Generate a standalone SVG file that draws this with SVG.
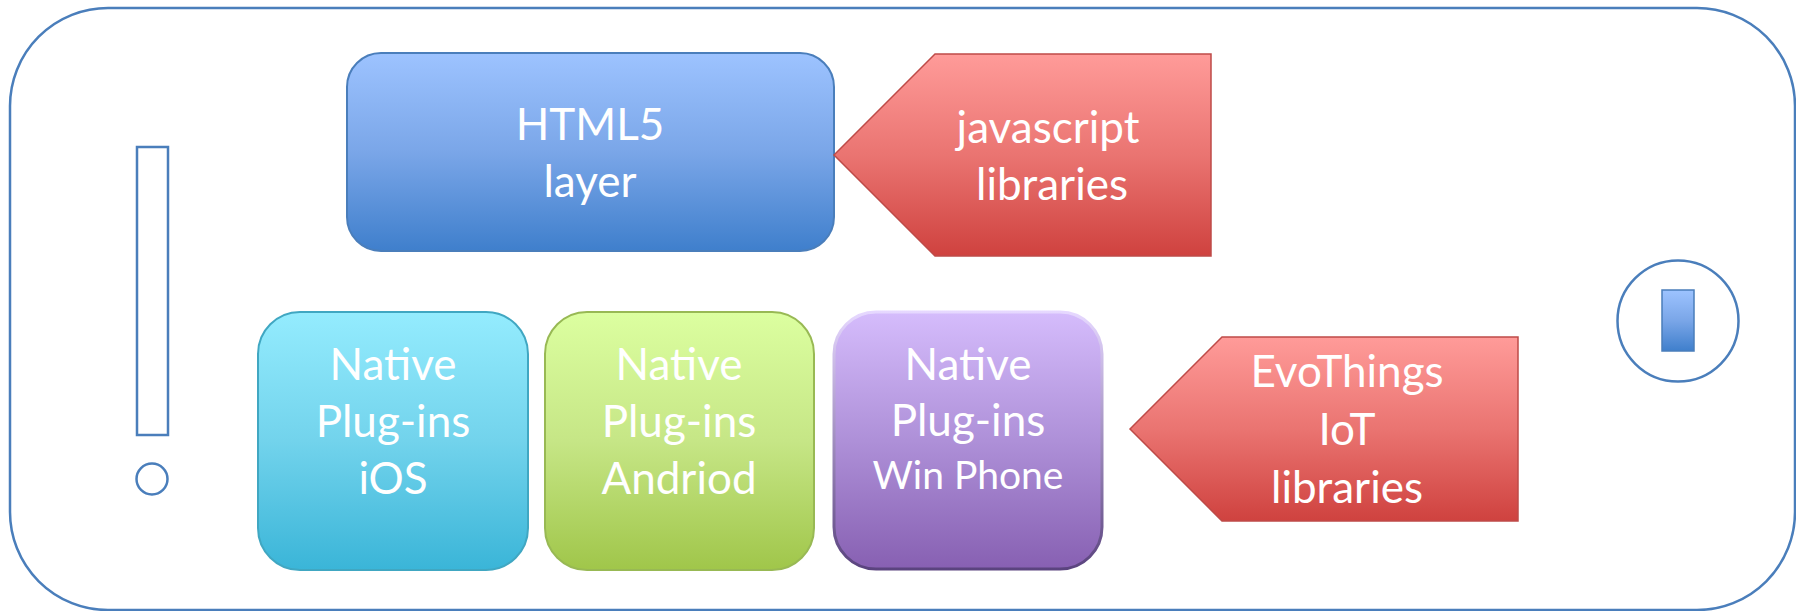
<svg xmlns="http://www.w3.org/2000/svg" width="1796" height="611" viewBox="0 0 1796 611">
<style>
.frame{fill:none;stroke:#4a7ebb;stroke-width:2.5}
.lbl{font-family:Lato,"Liberation Sans",sans-serif;font-size:44px;fill:#ffffff;text-anchor:middle}
.sm{font-size:39px}
</style>
<defs>
<linearGradient id="gBlue" x1="0" y1="0" x2="0" y2="1"><stop offset="0" stop-color="#9dc3ff"/><stop offset="0.5" stop-color="#7aa6e8"/><stop offset="1" stop-color="#3f7fcc"/></linearGradient>
<linearGradient id="gRed" x1="0" y1="0" x2="0" y2="1"><stop offset="0" stop-color="#ff9b99"/><stop offset="0.5" stop-color="#ea7471"/><stop offset="1" stop-color="#cf423f"/></linearGradient>
<linearGradient id="gCyan" x1="0" y1="0" x2="0" y2="1"><stop offset="0" stop-color="#94ecfe"/><stop offset="0.5" stop-color="#72d3ec"/><stop offset="1" stop-color="#3ab5d8"/></linearGradient>
<linearGradient id="gGreen" x1="0" y1="0" x2="0" y2="1"><stop offset="0" stop-color="#dcffa0"/><stop offset="0.5" stop-color="#c6e686"/><stop offset="1" stop-color="#a0c64a"/></linearGradient>
<linearGradient id="gPurple" x1="0" y1="0" x2="0" y2="1"><stop offset="0" stop-color="#d5bcfc"/><stop offset="0.5" stop-color="#ae90d8"/><stop offset="1" stop-color="#8760b2"/></linearGradient>
<linearGradient id="gPurpleStroke" x1="0" y1="0" x2="0" y2="1"><stop offset="0" stop-color="#e6d8ff"/><stop offset="1" stop-color="#5a437e"/></linearGradient>
</defs>

<g id="phone">
<rect class="frame" x="10" y="8" width="1785" height="602" rx="98" ry="98"/>
<rect class="frame" x="137" y="147" width="31" height="288" stroke-width="2"/>
<circle class="frame" cx="152" cy="479" r="15.5" stroke-width="2"/>
<circle class="frame" cx="1678" cy="321" r="60.5"/>
<rect x="1662" y="290" width="32" height="61" fill="url(#gBlue)" stroke="#4a7ebb" stroke-width="1.5"/>
</g>

<g id="html5">
<rect x="347" y="53" width="487" height="198" rx="34" ry="34" fill="url(#gBlue)" stroke="#4a7ebb" stroke-width="2"/>
<text class="lbl" x="590" y="140">HTML5</text>
<text class="lbl" x="590" y="197">layer</text>
</g>

<g id="javascript">
<polygon points="834,155 935,54 1211,54 1211,256 935,256" fill="url(#gRed)" stroke="#be4b48" stroke-width="1.5"/>
<text class="lbl" x="1048" y="143">javascript</text>
<text class="lbl" x="1052" y="200">libraries</text>
</g>

<g id="ios">
<rect x="258" y="312" width="270" height="258" rx="42" ry="42" fill="url(#gCyan)" stroke="#40a7c2" stroke-width="2"/>
<text class="lbl" x="393" y="380">Native</text>
<text class="lbl" x="393" y="437">Plug-ins</text>
<text class="lbl" x="393" y="494">iOS</text>
</g>

<g id="android">
<rect x="545" y="312" width="269" height="258" rx="42" ry="42" fill="url(#gGreen)" stroke="#98b954" stroke-width="2"/>
<text class="lbl" x="679" y="380">Native</text>
<text class="lbl" x="679" y="437">Plug-ins</text>
<text class="lbl" x="679" y="494">Andriod</text>
</g>

<g id="winphone">
<rect x="834" y="312" width="268" height="257" rx="42" ry="42" fill="url(#gPurple)" stroke="url(#gPurpleStroke)" stroke-width="3"/>
<text class="lbl" x="968" y="380">Native</text>
<text class="lbl" x="968" y="436">Plug-ins</text>
<text class="lbl sm" x="968" y="489">Win Phone</text>
</g>

<g id="evothings">
<polygon points="1130,429 1222,337 1518,337 1518,521 1222,521" fill="url(#gRed)" stroke="#be4b48" stroke-width="1.5"/>
<text class="lbl" x="1347" y="387">EvoThings</text>
<text class="lbl" x="1347" y="445">IoT</text>
<text class="lbl" x="1347" y="503">libraries</text>
</g>

<g id="connectors"></g>
</svg>
